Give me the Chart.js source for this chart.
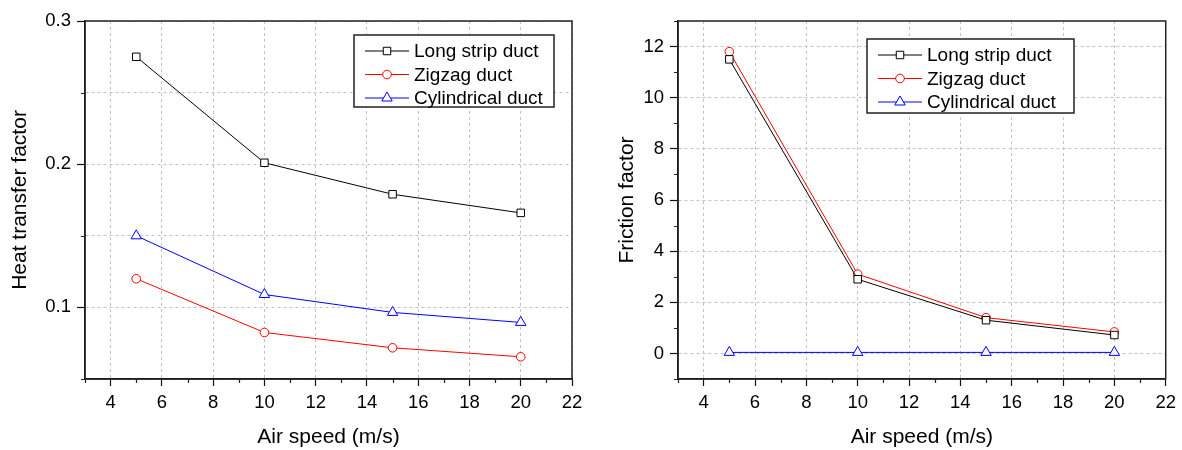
<!DOCTYPE html>
<html lang="en">
<head>
<meta charset="UTF-8">
<title>Heat transfer and friction factor vs air speed</title>
<script src="https://cdn.jsdelivr.net/npm/chart.js"></script>
<style>
  body { margin: 0; background: #fff; }
  .wrap { position: relative; width: 1182px; height: 450px; }
  canvas { position: absolute; top: 0; }
</style>
</head>
<body>
<div class="wrap">
  <canvas id="heatChart" width="591" height="450" style="left:0"></canvas>
  <canvas id="frictionChart" width="591" height="450" style="left:591px"></canvas>
</div>
<script>
// air speed (m/s)
const speeds = [5, 10, 15, 20];
const seriesNames = ['Long strip duct', 'Zigzag duct', 'Cylindrical duct'];

// heat transfer factor
const heatLong = [0.275, 0.201, 0.179, 0.166];
const heatZigzag = [0.120, 0.0825, 0.0718, 0.0655];
const heatCyl = [0.150, 0.109, 0.0965, 0.0895];

// friction factor
const fricLong = [11.5, 2.9, 1.3, 0.72];
const fricZigzag = [11.8, 3.1, 1.4, 0.84];
const fricCyl = [0.04, 0.04, 0.04, 0.04];

const FONT = '"Liberation Sans", Arial, sans-serif';
const gridColor = '#c4c4c4';
const clear = 'rgba(0,0,0,0)';

// full box round the plot + short minor ticks (ticks with an empty label)
const frameAndMinorTicks = {
  id: 'frameAndMinorTicks',
  afterDraw(chart) {
    const { ctx, chartArea: a } = chart;
    const sx = chart.scales.x, sy = chart.scales.y;
    ctx.save();
    ctx.strokeStyle = '#222';
    ctx.lineWidth = 1.5;
    ctx.strokeRect(a.left, a.top, a.right - a.left, a.bottom - a.top);
    ctx.lineWidth = 1.2;
    ctx.beginPath();
    sx.ticks.forEach(t => {
      if (t.label !== '') return;
      const px = Math.round(sx.getPixelForValue(t.value)) + 0.5;
      ctx.moveTo(px, a.bottom);
      ctx.lineTo(px, a.bottom + 4);
    });
    sy.ticks.forEach(t => {
      if (t.label !== '') return;
      const py = Math.round(sy.getPixelForValue(t.value)) + 0.5;
      ctx.moveTo(a.left, py);
      ctx.lineTo(a.left - 4, py);
    });
    ctx.stroke();
    ctx.restore();
  }
};

// boxed legend inside the plot, line + marker + text
const boxLegend = {
  id: 'boxLegend',
  afterDraw(chart, args, o) {
    const { ctx } = chart;
    ctx.save();
    ctx.fillStyle = '#fff';
    ctx.fillRect(o.x, o.y, o.w, o.h);
    ctx.strokeStyle = '#222';
    ctx.lineWidth = 1.5;
    ctx.strokeRect(o.x, o.y, o.w, o.h);
    ctx.font = '19px ' + FONT;
    ctx.textBaseline = 'middle';
    chart.data.datasets.forEach((ds, i) => {
      const cy = o.y + 16 + i * 23.5;
      ctx.strokeStyle = ds.borderColor;
      ctx.lineWidth = 1;
      ctx.beginPath();
      ctx.moveTo(o.x + 11, cy);
      ctx.lineTo(o.x + 55, cy);
      ctx.stroke();
      ctx.fillStyle = '#fff';
      Chart.helpers.drawPoint(ctx, { pointStyle: ds.pointStyle, radius: ds.pointRadius, borderWidth: 1, rotation: 0 }, o.x + 33, cy);
      ctx.fillStyle = '#000';
      ctx.fillText(ds.label, o.x + 60, cy + 1);
    });
    ctx.restore();
  }
};

function makeDataset(label, ys, color, style, radius) {
  return {
    label: label,
    data: speeds.map((s, i) => ({ x: s, y: ys[i] })),
    borderColor: color,
    borderWidth: 1,
    pointStyle: style,
    pointRadius: radius,
    pointBackgroundColor: '#fff',
    pointBorderColor: color,
    pointBorderWidth: 1,
    tension: 0
  };
}

function makeDatasets(a, b, c) {
  return [
    makeDataset(seriesNames[0], a, '#000', 'rect', 5.3),
    makeDataset(seriesNames[1], b, '#ff0000', 'circle', 4.3),
    makeDataset(seriesNames[2], c, '#0000ff', 'triangle', 6)
  ];
}

function makeOptions(cfg) {
  return {
    responsive: false,
    devicePixelRatio: 1,
    animation: false,
    layout: { padding: { top: 21, right: cfg.padRight, left: 0, bottom: 0 } },
    plugins: {
      legend: { display: false },
      tooltip: { enabled: false },
      boxLegend: cfg.legendBox
    },
    scales: {
      x: {
        type: 'linear',
        min: 3,
        max: 22,
        ticks: {
          stepSize: 1, autoSkip: false, maxRotation: 0, padding: 6,
          color: '#000', font: { family: FONT, size: 18.5 },
          callback: v => (v % 2 === 0 ? String(v) : '')
        },
        grid: {
          color: c => (c.tick && c.tick.value % 2 === 0 ? gridColor : clear),
          tickColor: c => (c.tick && c.tick.value % 2 === 0 ? '#111' : clear),
          tickLength: 7,
          tickWidth: 1.2,
          borderDash: [3, 3]
        },
        border: { color: '#111', width: 1.5, dash: [3, 3] },
        title: {
          display: true, text: 'Air speed (m/s)', color: '#000',
          font: { family: FONT, size: 21 }, padding: { top: 0, bottom: 0 }
        },
        afterFit: s => { s.height = 71; }
      },
      y: {
        type: 'linear',
        min: cfg.yMin,
        max: cfg.yMax,
        ticks: {
          stepSize: cfg.yStep, autoSkip: false, padding: 6,
          color: '#000', font: { family: FONT, size: 18.5 },
          callback: v => (cfg.isMajor(v) ? cfg.fmt(v) : '')
        },
        grid: {
          color: c => (c.tick && (cfg.allGrid || cfg.isMajor(c.tick.value)) ? gridColor : clear),
          tickColor: c => (c.tick && cfg.isMajor(c.tick.value) ? '#111' : clear),
          tickLength: 8,
          tickWidth: 1.2,
          borderDash: [3, 3]
        },
        border: { color: '#111', width: 1.5, dash: [3, 3] },
        title: {
          display: true, text: cfg.yTitle, color: '#000',
          font: { family: FONT, size: 21 }, padding: { top: cfg.yTitlePad, bottom: 0 }
        },
        afterFit: s => { s.width = cfg.yWidth; }
      }
    }
  };
}

new Chart(document.getElementById('heatChart'), {
  type: 'line',
  data: { datasets: makeDatasets(heatLong, heatZigzag, heatCyl) },
  options: makeOptions({
    padRight: 19, yWidth: 85, yTitlePad: 8,
    yMin: 0.05, yMax: 0.3, yStep: 0.05, allGrid: true,
    isMajor: v => Math.abs(v * 10 - Math.round(v * 10)) < 1e-6,
    fmt: v => v.toFixed(1),
    yTitle: 'Heat transfer factor',
    legendBox: { x: 354, y: 35, w: 200, h: 72 }
  }),
  plugins: [frameAndMinorTicks, boxLegend]
});

new Chart(document.getElementById('frictionChart'), {
  type: 'line',
  data: { datasets: makeDatasets(fricLong, fricZigzag, fricCyl) },
  options: makeOptions({
    padRight: 16, yWidth: 87, yTitlePad: 24,
    yMin: -1, yMax: 13, yStep: 1, allGrid: false,
    isMajor: v => Math.abs(v % 2) < 1e-6,
    fmt: v => String(v),
    yTitle: 'Friction factor',
    legendBox: { x: 276, y: 39, w: 207, h: 74 }
  }),
  plugins: [frameAndMinorTicks, boxLegend]
});
</script>
</body>
</html>
